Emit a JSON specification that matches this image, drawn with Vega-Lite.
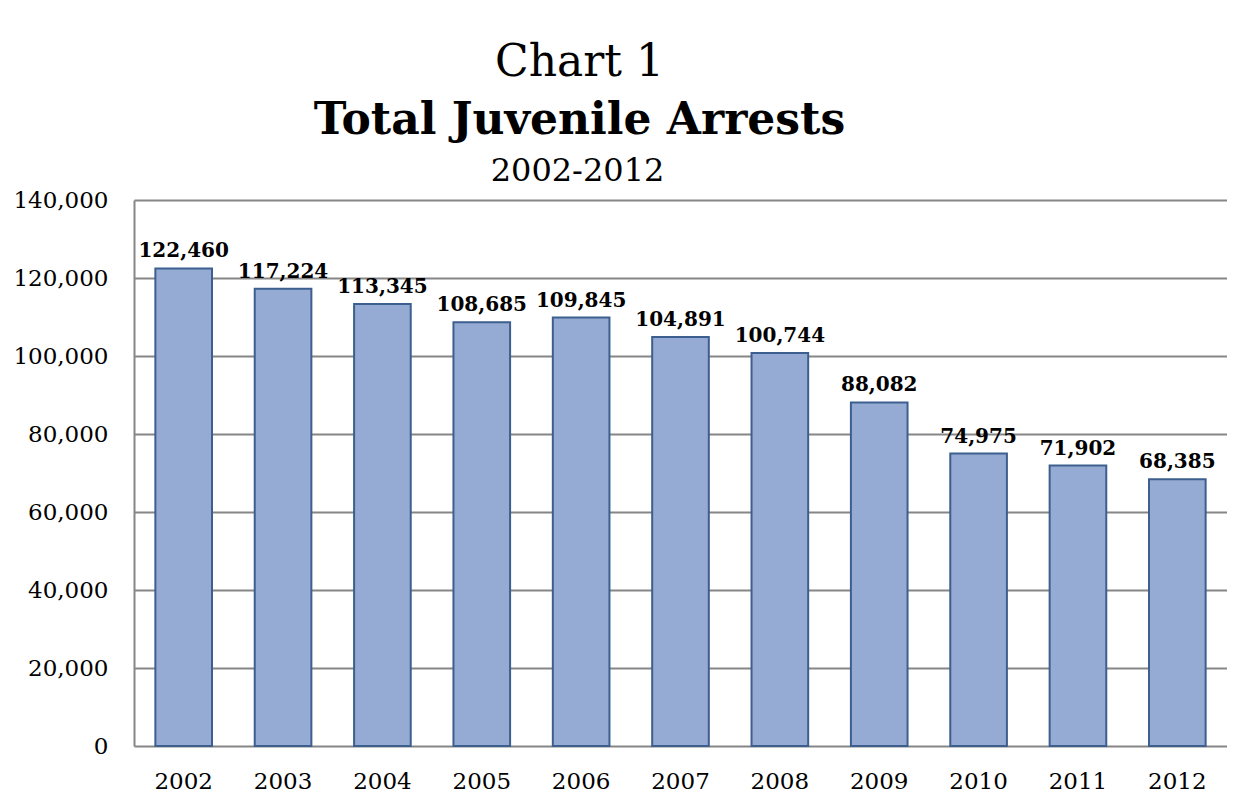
{
  "$schema": "https://vega.github.io/schema/vega-lite/v6.json",
  "background": "white",
  "padding": {"left": 9, "top": 41, "right": 0, "bottom": 0},
  "title": {
    "text": "Chart 1",
    "subtitle": "Total Juvenile Arrests",
    "anchor": "middle",
    "frame": "group",
    "dx": -101,
    "font": "DejaVu Serif",
    "fontSize": 44,
    "fontWeight": "normal",
    "color": "black",
    "subtitleFont": "DejaVu Serif",
    "subtitleFontSize": 44,
    "subtitleFontWeight": "bold",
    "subtitleColor": "black",
    "subtitlePadding": 13.5,
    "offset": 12.5
  },
  "config": {
    "view": {"stroke": null},
    "axis": {"labelFont": "DejaVu Serif", "labelColor": "black"}
  },
  "vconcat": [
    {
      "width": 1093,
      "height": 546,
      "title": {
        "text": "2002-2012",
        "anchor": "middle",
        "frame": "group",
        "dx": -103,
        "font": "DejaVu Serif",
        "fontSize": 32,
        "fontWeight": "normal",
        "color": "black",
        "offset": 1
      },
      "data": {
        "values": [
          {"year": "2002", "arrests": 122460},
          {"year": "2003", "arrests": 117224},
          {"year": "2004", "arrests": 113345},
          {"year": "2005", "arrests": 108685},
          {"year": "2006", "arrests": 109845},
          {"year": "2007", "arrests": 104891},
          {"year": "2008", "arrests": 100744},
          {"year": "2009", "arrests": 88082},
          {"year": "2010", "arrests": 74975},
          {"year": "2011", "arrests": 71902},
          {"year": "2012", "arrests": 68385}
        ]
      },
      "encoding": {
        "x": {
          "field": "year",
          "type": "ordinal",
          "scale": {"paddingInner": 0.43, "paddingOuter": 0.215},
          "axis": {
            "title": null,
            "labelAngle": 0,
            "labelFontSize": 23,
            "labelPadding": 24,
            "ticks": false,
            "domain": false,
            "grid": false
          }
        },
        "y": {
          "field": "arrests",
          "type": "quantitative",
          "scale": {"domain": [0, 140000], "nice": false},
          "axis": {
            "title": null,
            "values": [0, 20000, 40000, 60000, 80000, 100000, 120000, 140000],
            "format": ",d",
            "labelFontSize": 23,
            "labelPadding": 26,
            "ticks": false,
            "tickSize": 0,
            "domain": true,
            "domainColor": "#868686",
            "domainWidth": 2,
            "grid": true,
            "gridColor": "#868686",
            "gridWidth": 2,
            "minExtent": 125,
            "maxExtent": 125
          }
        }
      },
      "layer": [
        {
          "mark": {"type": "bar", "fill": "#95abd3", "stroke": "#3d5f8f", "strokeWidth": 2}
        },
        {
          "mark": {
            "type": "text",
            "font": "DejaVu Serif",
            "fontWeight": "bold",
            "fontSize": 20,
            "baseline": "alphabetic",
            "dy": -11,
            "color": "black"
          },
          "encoding": {
            "text": {"field": "arrests", "type": "quantitative", "format": ",d"}
          }
        }
      ]
    }
  ]
}
